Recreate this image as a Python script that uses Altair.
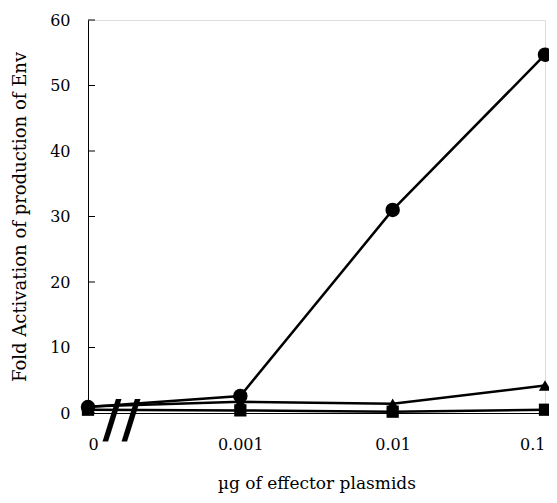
import altair as alt
import pandas as pd

doses = ["0", "0.001", "0.01", "0.1"]
positions = [0, 1, 2, 3]
circles = [0.9, 2.6, 31.0, 54.7]
triangles = [1.0, 1.7, 1.4, 4.2]
squares = [0.5, 0.4, 0.2, 0.5]
y_ticks = [0, 10, 20, 30, 40, 50, 60]

rows = []
for name, shape, vals in [("circle", "circle", circles),
                          ("triangle", "triangle-up", triangles),
                          ("square", "square", squares)]:
    for p, d, v in zip(positions, doses, vals):
        rows.append({"series": name, "shape": shape, "pos": p, "dose": d, "value": v})
df = pd.DataFrame(rows)

font = "DejaVu Serif"
label_expr = "{'0':'0','1':'0.001','2':'0.01','3':'0.1'}[datum.value]"

xscale = alt.Scale(domain=[0, 3], nice=False, zero=False)
yscale = alt.Scale(domain=[0, 60], nice=False)

xenc = alt.X("pos:Q", scale=xscale,
             axis=alt.Axis(values=positions, labelExpr=label_expr, grid=False,
                           ticks=False, domainColor="black", domainWidth=1,
                           labelFont=font, labelFontSize=16, labelColor="black",
                           labelPadding=23,
                           title="µg of effector plasmids", titleFont=font,
                           titleFontSize=17, titleFontWeight="normal",
                           titleColor="black", titlePadding=23))
yenc = alt.Y("value:Q", scale=yscale,
             axis=alt.Axis(values=y_ticks, grid=False, ticks=False,
                           domainColor="black", domainWidth=1,
                           labelFont=font, labelFontSize=16, labelColor="black",
                           labelPadding=18,
                           title="Fold Activation of production of Env",
                           titleFont=font, titleFontSize=18,
                           titleFontWeight="normal", titleColor="black",
                           titlePadding=20))

lines = alt.Chart(df).mark_line(color="black", strokeWidth=2.5).encode(
    x=xenc, y=yenc, detail="series:N")

points = alt.Chart(df).mark_point(filled=True, opacity=1, color="black").encode(
    x="pos:Q", y="value:Q",
    shape=alt.Shape("shape:N", scale=None),
    size=alt.condition("datum.series == 'circle'", alt.value(210), alt.value(150)))

tick_df = pd.DataFrame({"v": y_ticks})
yticks = alt.Chart(tick_df).mark_rule(color="black", strokeWidth=1).encode(
    y="v:Q", x=alt.value(0), x2=alt.value(7))

break_df = pd.DataFrame({"pos": [0.22], "value": [0], "t": ["//"]})
brk = alt.Chart(break_df).mark_text(font="DejaVu Sans", fontSize=52,
                                    fontWeight="bold", color="black",
                                    dy=8).encode(
    x="pos:Q", y="value:Q", text="t:N")

chart = alt.layer(lines, yticks, brk, points).properties(
    width=457, height=393,
    autosize=alt.AutoSizeParams(type="none"),
    padding={"left": 80, "top": 12, "right": 4, "bottom": 82},
).configure_view(stroke=None).configure(background="white")

chart.save("out.html", embed_options={"renderer": "svg", "actions": False})
